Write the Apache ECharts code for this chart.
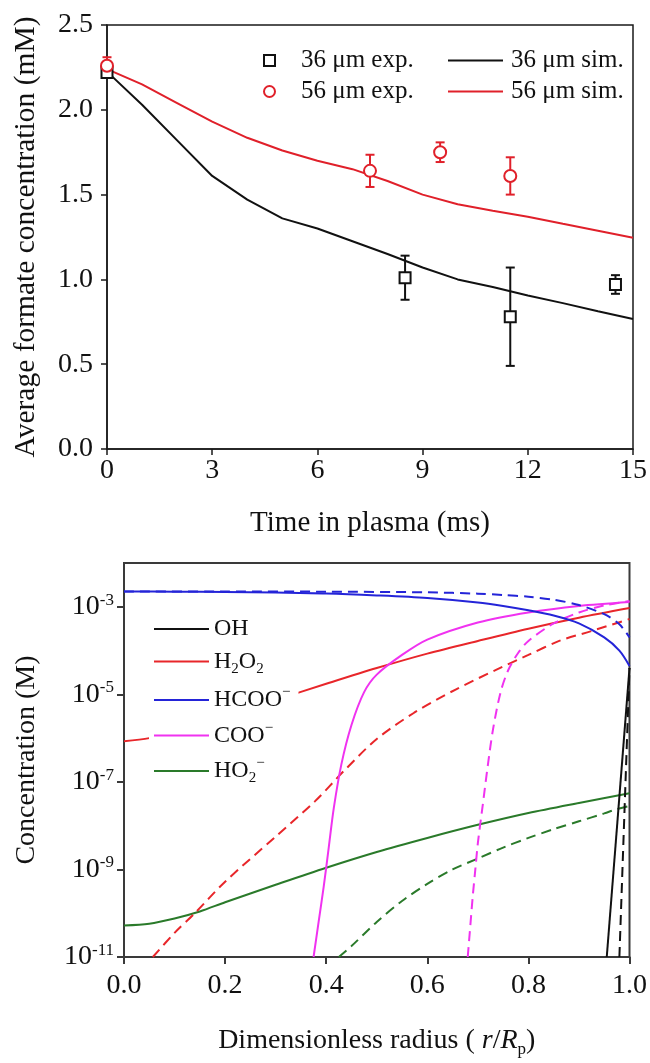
<!DOCTYPE html>
<html><head><meta charset="utf-8">
<script src="https://cdn.jsdelivr.net/npm/echarts@6/dist/echarts.min.js"></script>
<style>html,body{margin:0;padding:0;background:#fff}#c{width:650px;height:1063px}</style>
</head><body><div id="c"></div>
<script>
// ---------- Top panel data (time in ms, formate in mM) ----------
const simTime = [0, 1, 2, 3, 4, 5, 6, 7, 8, 9, 10, 11, 12, 13, 14, 15];
const sim36 = [2.225, 2.03, 1.82, 1.61, 1.47, 1.36, 1.30, 1.225, 1.15, 1.07, 1.00, 0.955, 0.905, 0.86, 0.812, 0.766];
const sim56 = [2.24, 2.15, 2.04, 1.93, 1.835, 1.76, 1.70, 1.65, 1.58, 1.50, 1.443, 1.405, 1.37, 1.328, 1.287, 1.246];
const exp36Time = [0, 8.5, 11.5, 14.5];
const exp36Val = [2.22, 1.01, 0.78, 0.97];
const exp36Err = [0.03, 0.13, 0.29, 0.055];
const exp56Time = [0, 7.5, 9.5, 11.5];
const exp56Val = [2.26, 1.64, 1.75, 1.61];
const exp56Err = [0.05, 0.095, 0.058, 0.11];

// ---------- Bottom panel data (radius r/Rp, log10 of concentration in M) ----------
const ohSolidR = [0.955, 1.0];
const ohSolidLogC = [-11, -4.4];
const ohDashR = [0.98, 1.0];
const ohDashLogC = [-11, -4.4];
const h2o2SolidR = [0, 0.05, 0.1, 0.2, 0.3, 0.4, 0.5, 0.6, 0.7, 0.8, 0.9, 1.0];
const h2o2SolidLogC = [-6.07, -6.0, -5.85, -5.5, -5.13, -4.76, -4.40, -4.07, -3.78, -3.50, -3.25, -3.03];
const h2o2DashR = [0.057, 0.1, 0.14, 0.2, 0.3, 0.378, 0.435, 0.5, 0.574, 0.656, 0.738, 0.8, 0.861, 0.926, 1.0];
const h2o2DashLogC = [-11, -10.45, -10.0, -9.28, -8.25, -7.44, -6.75, -6.02, -5.42, -4.89, -4.43, -4.10, -3.78, -3.55, -3.28];
const hcooSolidR = [0, 0.1, 0.2, 0.3, 0.4, 0.5, 0.6, 0.7, 0.75, 0.8, 0.85, 0.9, 0.95, 0.98, 1.0];
const hcooSolidLogC = [-2.65, -2.655, -2.66, -2.675, -2.695, -2.74, -2.80, -2.90, -2.98, -3.08, -3.20, -3.38, -3.70, -4.0, -4.35];
const hcooDashR = [0, 0.2, 0.4, 0.6, 0.7, 0.75, 0.8, 0.85, 0.9, 0.95, 0.98, 1.0];
const hcooDashLogC = [-2.65, -2.65, -2.655, -2.67, -2.70, -2.73, -2.77, -2.84, -2.96, -3.17, -3.40, -3.70];
const cooSolidR = [0.375, 0.385, 0.395, 0.405, 0.415, 0.43, 0.45, 0.475, 0.5, 0.55, 0.6, 0.7, 0.8, 0.9, 1.0];
const cooSolidLogC = [-11, -10.2, -9.4, -8.5, -7.6, -6.6, -5.7, -4.95, -4.55, -4.1, -3.75, -3.36, -3.13, -2.98, -2.89];
const cooDashR = [0.68, 0.685, 0.69, 0.695, 0.7, 0.71, 0.72, 0.73, 0.745, 0.76, 0.78, 0.8, 0.85, 0.9, 0.95, 1.0];
const cooDashLogC = [-11, -10.3, -9.6, -9.0, -8.4, -7.5, -6.6, -5.8, -4.95, -4.45, -4.05, -3.78, -3.38, -3.13, -2.97, -2.87];
const ho2SolidR = [0, 0.05, 0.1, 0.15, 0.2, 0.3, 0.4, 0.5, 0.6, 0.7, 0.8, 0.9, 1.0];
const ho2SolidLogC = [-10.28, -10.24, -10.12, -9.96, -9.75, -9.35, -8.96, -8.6, -8.28, -7.98, -7.71, -7.48, -7.26];
const ho2DashR = [0.425, 0.45, 0.5, 0.55, 0.6, 0.65, 0.7, 0.75, 0.8, 0.85, 0.9, 0.95, 0.975, 1.0];
const ho2DashLogC = [-11, -10.75, -10.2, -9.72, -9.33, -9.0, -8.75, -8.5, -8.28, -8.08, -7.9, -7.72, -7.62, -7.55];
const bottomYTickExp = [-11, -9, -7, -5, -3];
const speciesNames = ['OH', 'H2O2', 'HCOO-', 'COO-', 'HO2-'];

const FONT = "'Liberation Serif', 'Times New Roman', serif";
const TXT = '#111';
const pair = (xs, ys) => xs.map((x, i) => [x, ys[i]]);

function errorBars(ts, vs, es, color, xi, yi) {
  return {
    type: 'custom', xAxisIndex: xi, yAxisIndex: yi, z: 1, silent: true,
    data: ts.map((t, i) => [t, vs[i] - es[i], vs[i] + es[i]]),
    renderItem: function (params, api) {
      const lo = api.coord([api.value(0), api.value(1)]);
      const hi = api.coord([api.value(0), api.value(2)]);
      const hw = 4.5, st = { stroke: color, lineWidth: 2 };
      return { type: 'group', children: [
        { type: 'line', shape: { x1: lo[0], y1: lo[1], x2: hi[0], y2: hi[1] }, style: st },
        { type: 'line', shape: { x1: lo[0] - hw, y1: lo[1], x2: lo[0] + hw, y2: lo[1] }, style: st },
        { type: 'line', shape: { x1: hi[0] - hw, y1: hi[1], x2: hi[0] + hw, y2: hi[1] }, style: st }
      ]};
    }
  };
}

const speciesColor = { 'OH': '#111111', 'H2O2': '#e8262a', 'HCOO-': '#2424d8', 'COO-': '#f032f0', 'HO2-': '#2a7a2a' };
const richName = {
  'OH': '{n|OH}',
  'H2O2': '{n|H}{sub|2}{n|O}{sub|2}',
  'HCOO-': '{n|HCOO}{sup|\u2212}',
  'COO-': '{n|COO}{sup|\u2212}',
  'HO2-': '{n|HO}{sub|2}{sup|\u2212}'
};
function speciesLine(name, xs, ys, dashed) {
  return {
    type: 'line', name: dashed ? name + ' (dashed)' : name, xAxisIndex: 1, yAxisIndex: 1,
    data: pair(xs, ys), symbol: 'none', smooth: xs.length > 2 ? 0.3 : false,
    lineStyle: { color: speciesColor[name], width: 2, type: dashed ? [10, 6] : 'solid' },
    itemStyle: { color: speciesColor[name] }
  };
}

const axisTopLine = { show: true, lineStyle: { color: '#1a1a1a', width: 1.5 } };
const axisBotLine = { show: true, lineStyle: { color: '#3a3a3a', width: 2 } };

const option = {
  animation: false,
  backgroundColor: '#fff',
  grid: [
    { left: 107, top: 25, width: 527, height: 424, show: true, borderColor: '#1a1a1a', borderWidth: 1.5, backgroundColor: 'transparent' },
    { left: 124, top: 563, width: 507, height: 394, show: true, borderColor: '#3a3a3a', borderWidth: 2, backgroundColor: 'transparent' }
  ],
  xAxis: [
    { type: 'value', gridIndex: 0, min: 0, max: 15, interval: 3,
      axisLine: axisTopLine, axisTick: { show: true, inside: false, length: 6, lineStyle: { color: '#1a1a1a', width: 1.5 } },
      splitLine: { show: false },
      axisLabel: { margin: 8, fontFamily: FONT, fontSize: 28, color: TXT, formatter: v => String(v) },
      name: 'Time in plasma (ms)', nameLocation: 'middle', nameGap: 60,
      nameTextStyle: { fontFamily: FONT, fontSize: 29, color: TXT } },
    { type: 'value', gridIndex: 1, min: 0, max: 1, interval: 0.2,
      axisLine: axisBotLine, axisTick: { show: true, inside: false, length: 7, lineStyle: { color: '#3a3a3a', width: 2 } },
      splitLine: { show: false },
      axisLabel: { margin: 15, fontFamily: FONT, fontSize: 28, color: TXT, formatter: v => v.toFixed(1) },
      name: '{n|Dimensionless radius ( }{i|r}{n|/}{i|R}{sub|p}{n|)}', nameLocation: 'middle', nameGap: 67,
      nameTextStyle: { fontFamily: FONT, fontSize: 28, color: TXT,
        rich: {
          n: { fontFamily: FONT, fontSize: 28, lineHeight: 34, color: TXT },
          i: { fontFamily: FONT, fontSize: 28, lineHeight: 34, fontStyle: 'italic', color: TXT },
          sub: { fontFamily: FONT, fontSize: 17, lineHeight: 17, verticalAlign: 'bottom', color: TXT }
        } } }
  ],
  yAxis: [
    { type: 'value', gridIndex: 0, min: 0, max: 2.5, interval: 0.5,
      axisLine: axisTopLine, axisTick: { show: true, inside: false, length: 6, lineStyle: { color: '#1a1a1a', width: 1.5 } },
      splitLine: { show: false },
      axisLabel: { margin: 14, fontFamily: FONT, fontSize: 28, color: TXT, formatter: v => v.toFixed(1) },
      name: 'Average formate concentration (mM)', nameLocation: 'middle', nameGap: 66, nameRotate: 90,
      nameTextStyle: { fontFamily: FONT, fontSize: 29.5, color: TXT } },
    { type: 'value', gridIndex: 1, min: -11, max: -2, interval: 2,
      axisLine: axisBotLine,
      axisTick: { show: true, inside: false, length: 7, customValues: bottomYTickExp, lineStyle: { color: '#3a3a3a', width: 2 } },
      splitLine: { show: false },
      axisLabel: { margin: 10, customValues: bottomYTickExp, color: TXT,
        formatter: v => (bottomYTickExp.indexOf(v) >= 0 ? '{b|10}{s|' + v + '}' : ''),
        rich: {
          b: { fontFamily: FONT, fontSize: 28, lineHeight: 30, color: TXT },
          s: { fontFamily: FONT, fontSize: 17, lineHeight: 17, verticalAlign: 'top', color: TXT }
        } },
      name: 'Concentration (M)', nameLocation: 'middle', nameGap: 83, nameRotate: 90,
      nameTextStyle: { fontFamily: FONT, fontSize: 28, color: TXT } }
  ],
  legend: [
    { data: ['36 \u03bcm exp.', '56 \u03bcm exp.'], orient: 'vertical', left: 263, top: 48, padding: 0,
      itemWidth: 11, itemHeight: 11, itemGap: 6, selectedMode: false,
      formatter: n => '{t|' + n + '}',
      textStyle: { fontFamily: FONT, fontSize: 25, color: TXT,
        rich: { t: { fontFamily: FONT, fontSize: 25, lineHeight: 25, color: TXT, padding: [0, 0, 0, 21] } } } },
    { data: ['36 \u03bcm sim.', '56 \u03bcm sim.'], orient: 'vertical', left: 447, top: 48, padding: 0,
      itemWidth: 55, itemHeight: 11, itemGap: 6, selectedMode: false,
      itemStyle: { opacity: 0 },
      formatter: n => '{t|' + n + '}',
      textStyle: { fontFamily: FONT, fontSize: 25, color: TXT,
        rich: { t: { fontFamily: FONT, fontSize: 25, lineHeight: 25, color: TXT, padding: [0, 0, 0, 3] } } } },
    { data: speciesNames, orient: 'vertical', left: 149, top: 613, padding: [4, 8, 6, 4],
      backgroundColor: '#ffffff', itemWidth: 55, itemHeight: 14, itemGap: 8.5, selectedMode: false,
      itemStyle: { opacity: 0 },
      formatter: n => richName[n],
      textStyle: { fontFamily: FONT, fontSize: 24, color: TXT,
        rich: {
          n: { fontFamily: FONT, fontSize: 24, lineHeight: 30, color: TXT },
          sub: { fontFamily: FONT, fontSize: 15, lineHeight: 15, verticalAlign: 'bottom', color: TXT },
          sup: { fontFamily: FONT, fontSize: 15, lineHeight: 15, verticalAlign: 'top', color: TXT }
        } } }
  ],
  series: [
    { type: 'line', name: '36 \u03bcm sim.', xAxisIndex: 0, yAxisIndex: 0, data: pair(simTime, sim36),
      symbol: 'none', lineStyle: { color: '#111', width: 2 }, itemStyle: { color: '#111' } },
    { type: 'line', name: '56 \u03bcm sim.', xAxisIndex: 0, yAxisIndex: 0, data: pair(simTime, sim56),
      symbol: 'none', lineStyle: { color: '#e0202a', width: 2 }, itemStyle: { color: '#e0202a' } },
    errorBars(exp36Time, exp36Val, exp36Err, '#111', 0, 0),
    errorBars(exp56Time, exp56Val, exp56Err, '#e0202a', 0, 0),
    { type: 'scatter', name: '36 \u03bcm exp.', xAxisIndex: 0, yAxisIndex: 0, z: 3, data: pair(exp36Time, exp36Val),
      symbol: 'rect', symbolSize: 11, itemStyle: { color: '#ffffff', borderColor: '#111', borderWidth: 2, opacity: 1 } },
    { type: 'scatter', name: '56 \u03bcm exp.', xAxisIndex: 0, yAxisIndex: 0, z: 3, data: pair(exp56Time, exp56Val),
      symbol: 'circle', symbolSize: 12, itemStyle: { color: '#ffffff', borderColor: '#e0202a', borderWidth: 2, opacity: 1 } },

    speciesLine('HO2-', ho2SolidR, ho2SolidLogC, false),
    speciesLine('HO2-', ho2DashR, ho2DashLogC, true),
    speciesLine('H2O2', h2o2SolidR, h2o2SolidLogC, false),
    speciesLine('H2O2', h2o2DashR, h2o2DashLogC, true),
    speciesLine('COO-', cooSolidR, cooSolidLogC, false),
    speciesLine('COO-', cooDashR, cooDashLogC, true),
    speciesLine('HCOO-', hcooSolidR, hcooSolidLogC, false),
    speciesLine('HCOO-', hcooDashR, hcooDashLogC, true),
    speciesLine('OH', ohSolidR, ohSolidLogC, false),
    speciesLine('OH', ohDashR, ohDashLogC, true)
  ]
};
const chart = echarts.init(document.getElementById('c'), null, { renderer: 'canvas' });
chart.setOption(option);
</script></body></html>
